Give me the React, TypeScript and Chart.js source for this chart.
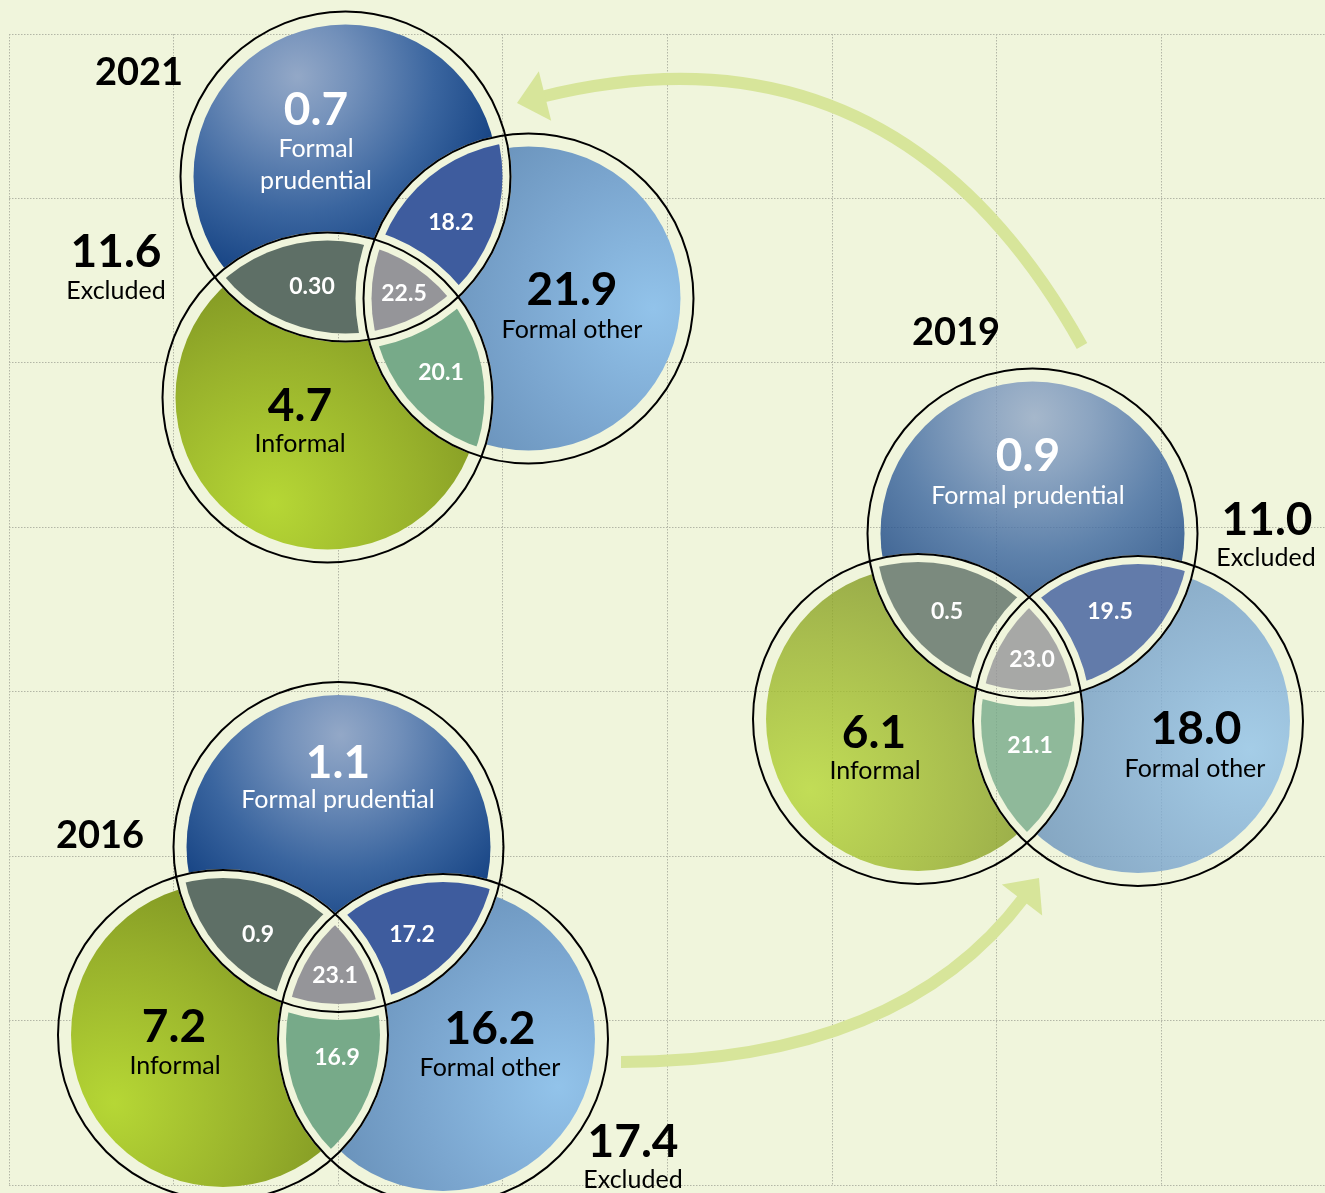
import React, { useEffect, useRef } from 'react';
import { Chart, registerables } from 'chart.js';

Chart.register(...registerables);

const W = 1325;
const H = 1193;

// ---------- data ----------
const years = ['2021', '2019', '2016'];
const categories = ['Formal prudential', 'Formal other', 'Informal'];
const excludedLabel = 'Excluded';
const excluded = [11.6, 11.0, 17.4];
const formalPrudential = [0.7, 0.9, 1.1];
const formalOther = [21.9, 18.0, 16.2];
const informal = [4.7, 6.1, 7.2];
const prudentialAndOther = [18.2, 19.5, 17.2];
const prudentialAndInformal = [0.3, 0.5, 0.9];
const prudentialAndInformalDecimals = [2, 1, 1];
const otherAndInformal = [20.1, 21.1, 16.9];
const allThree = [22.5, 23.0, 23.1];

// grid tick positions (in chart units)
const gridX = [9, 173.6, 338.3, 502.9, 667.6, 832.2, 996.9, 1161.5];
const gridY = [34, 198.4, 362.9, 527.3, 691.7, 856.1, 1020.6, 1185];

// ---------- layout / style ----------
const BG = '#f0f5dc';
const ARROW = '#d7e59a';
const FONT = 'Lato, "Noto Sans", sans-serif';
const R = 165;
const OUTER_GAP = 13;
const INNER_GAP = 8;

type Pt = [number, number];
interface VennLayout {
  centers: Pt[]; // prudential, other, informal
  alpha: number;
  hlP: Pt; hlO: Pt; hlI: Pt;
  year: Pt;
  exclNum: Pt; exclLbl: Pt;
  pVal: Pt; pName: Pt[]; pLines: string[];
  oVal: Pt; oName: Pt;
  iVal: Pt; iName: Pt;
  po: Pt; pi: Pt; oi: Pt; poi: Pt;
}

const layouts: VennLayout[] = [
  {
    centers: [[345.5, 176.5], [528.5, 298.5], [327.5, 397.5]],
    alpha: 1,
    hlP: [-48, -100], hlO: [125, 10], hlI: [-54, 106],
    year: [139, 85],
    exclNum: [116, 267], exclLbl: [116, 299],
    pVal: [316, 125], pName: [[316, 157], [316, 189]], pLines: ['Formal', 'prudential'],
    oVal: [572, 305], oName: [572, 338],
    iVal: [300, 421], iName: [300, 452],
    po: [451, 230], pi: [312, 294], oi: [441, 380], poi: [404, 301],
  },
  {
    centers: [[1032.5, 533.5], [1138, 721], [918, 719]],
    alpha: 0.8,
    hlP: [2, -116], hlO: [112, 29], hlI: [-108, 71],
    year: [956, 345],
    exclNum: [1267, 535], exclLbl: [1266, 566],
    pVal: [1028, 471], pName: [[1028, 504]], pLines: ['Formal prudential'],
    oVal: [1196, 744], oName: [1195, 777],
    iVal: [874, 748], iName: [875, 779],
    po: [1110, 619], pi: [947, 619], oi: [1030, 753], poi: [1032, 667],
  },
  {
    centers: [[338.5, 847], [443, 1039], [223, 1035]],
    alpha: 1,
    hlP: [2, -112], hlO: [115, 48], hlI: [-109, 68],
    year: [100, 848],
    exclNum: [633, 1157], exclLbl: [633, 1188],
    pVal: [338, 778], pName: [[338, 808]], pLines: ['Formal prudential'],
    oVal: [490, 1044], oName: [490, 1076],
    iVal: [174, 1042], iName: [175, 1074],
    po: [412, 942], pi: [258, 942], oi: [337, 1065], poi: [335, 983],
  },
];

// arrows: start, control, head base, head tip
const arrows: { start: Pt; ctrl: Pt; base: Pt; tip: Pt }[] = [
  { start: [1082, 346], ctrl: [895, 10], base: [545, 96], tip: [517, 103] },
  { start: [621, 1062], ctrl: [900, 1062], base: [1022, 900], tip: [1039, 878] },
];

const fmt = (v: number, d = 1) => v.toFixed(d);

const vennPlugin = {
  id: 'vennPlugin',
  beforeDraw(chart: any) {
    const ctx = chart.ctx as CanvasRenderingContext2D;
    ctx.save();
    ctx.fillStyle = BG;
    ctx.fillRect(0, 0, chart.width, chart.height);
    ctx.restore();
  },
  afterDraw(chart: any) {
    const ctx = chart.ctx as CanvasRenderingContext2D;
    const xs = chart.scales.x;
    const ys = chart.scales.y;
    const px = (v: number) => xs.getPixelForValue(v);
    const py = (v: number) => ys.getPixelForValue(v);
    const pr = (r: number) => Math.abs(xs.getPixelForValue(r) - xs.getPixelForValue(0));
    const dxp = (d: number) => xs.getPixelForValue(d) - xs.getPixelForValue(0);
    const dyp = (d: number) => ys.getPixelForValue(d) - ys.getPixelForValue(0);

    // ---- arrows ----
    for (const a of arrows) {
      const sx = px(a.start[0]), sy = py(a.start[1]);
      const cx = px(a.ctrl[0]), cy = py(a.ctrl[1]);
      const bx = px(a.base[0]), by = py(a.base[1]);
      const tx = px(a.tip[0]), ty = py(a.tip[1]);
      let dx = tx - bx, dy = ty - by;
      const len = Math.hypot(dx, dy);
      dx /= len; dy /= len;
      ctx.save();
      ctx.strokeStyle = ARROW;
      ctx.lineWidth = pr(12);
      ctx.lineCap = 'butt';
      ctx.beginPath();
      ctx.moveTo(sx, sy);
      ctx.quadraticCurveTo(cx, cy, bx + dx * 3, by + dy * 3);
      ctx.stroke();
      const hw = pr(25.5);
      ctx.fillStyle = ARROW;
      ctx.beginPath();
      ctx.moveTo(tx, ty);
      ctx.lineTo(bx - dy * hw, by + dx * hw);
      ctx.lineTo(bx + dy * hw, by - dx * hw);
      ctx.closePath();
      ctx.fill();
      ctx.restore();
    }

    // ---- venns ----
    const text = (s: string, p: Pt, size: number, bold: boolean, color: string) => {
      ctx.font = `${bold ? 700 : 400} ${size}px ${FONT}`;
      ctx.fillStyle = color;
      ctx.textAlign = 'center';
      ctx.textBaseline = 'alphabetic';
      ctx.fillText(s, px(p[0]), py(p[1]));
    };

    layouts.forEach((L, idx) => {
      const c = L.centers.map(([x, y]) => [px(x), py(y)] as Pt);
      const r = pr(R);
      const mkRadial = (k: number, off: Pt, rad: number, stops: [number, string][]) => {
        const hx = c[k][0] + dxp(off[0]);
        const hy = c[k][1] + dyp(off[1]);
        const g = ctx.createRadialGradient(hx, hy, 0, hx, hy, pr(rad));
        stops.forEach(([o, col]) => g.addColorStop(o, col));
        return g;
      };
      const gP = mkRadial(0, L.hlP, 285, [[0, '#93a8c7'], [0.2, '#7290ba'], [0.48, '#3a659f'], [0.72, '#184585'], [1, '#002a66']]);
      const gO = mkRadial(1, L.hlO, 300, [[0, '#92c3ea'], [0.45, '#7ba6cf'], [1, '#5d84ac']]);
      const gI = mkRadial(2, L.hlI, 300, [[0, '#b6d735'], [0.5, '#97b02b'], [1, '#72861e']]);

      const regions: { inside: number[]; fill: any }[] = [
        { inside: [0], fill: gP },
        { inside: [1], fill: gO },
        { inside: [2], fill: gI },
        { inside: [0, 1], fill: '#3e5c9e' },
        { inside: [0, 2], fill: '#5e6f66' },
        { inside: [1, 2], fill: '#77aa89' },
        { inside: [0, 1, 2], fill: '#959599' },
      ];
      const minX = Math.min(...c.map((p) => p[0])) - r - 2;
      const maxX = Math.max(...c.map((p) => p[0])) + r + 2;
      const minY = Math.min(...c.map((p) => p[1])) - r - 2;
      const maxY = Math.max(...c.map((p) => p[1])) + r + 2;

      for (const reg of regions) {
        const single = reg.inside.length === 1;
        ctx.save();
        for (let k = 0; k < 3; k++) {
          ctx.beginPath();
          if (reg.inside.includes(k)) {
            ctx.arc(c[k][0], c[k][1], r - pr(single ? OUTER_GAP : INNER_GAP), 0, Math.PI * 2);
            ctx.clip();
          } else {
            ctx.rect(minX - 10, minY - 10, maxX - minX + 20, maxY - minY + 20);
            ctx.arc(c[k][0], c[k][1], r + pr(single ? 1 : INNER_GAP), 0, Math.PI * 2);
            ctx.clip('evenodd');
          }
        }
        ctx.globalAlpha = L.alpha;
        ctx.fillStyle = reg.fill;
        ctx.fillRect(minX, minY, maxX - minX, maxY - minY);
        ctx.restore();
      }

      // outlines
      ctx.save();
      ctx.strokeStyle = '#000';
      ctx.lineWidth = 2;
      for (let k = 0; k < 3; k++) {
        ctx.beginPath();
        ctx.arc(c[k][0], c[k][1], r, 0, Math.PI * 2);
        ctx.stroke();
      }
      ctx.restore();

      // texts
      const BIG = 46, NAME = 25, SMALL = 23;
      text(years[idx], L.year, 38, true, '#000');
      text(fmt(excluded[idx]), L.exclNum, BIG, true, '#000');
      text(excludedLabel, L.exclLbl, NAME, false, '#000');
      text(fmt(formalPrudential[idx]), L.pVal, BIG, true, '#fff');
      L.pLines.forEach((ln, i) => text(ln, L.pName[i], NAME, false, '#fff'));
      text(fmt(formalOther[idx]), L.oVal, BIG, true, '#000');
      text(categories[1], L.oName, NAME, false, '#000');
      text(fmt(informal[idx]), L.iVal, BIG, true, '#000');
      text(categories[2], L.iName, NAME, false, '#000');
      text(fmt(prudentialAndOther[idx]), L.po, SMALL, true, '#fff');
      text(fmt(prudentialAndInformal[idx], prudentialAndInformalDecimals[idx]), L.pi, SMALL, true, '#fff');
      text(fmt(otherAndInformal[idx]), L.oi, SMALL, true, '#fff');
      text(fmt(allThree[idx]), L.poi, SMALL, true, '#fff');
    });
  },
};

export default function App() {
  const ref = useRef<HTMLCanvasElement>(null);
  useEffect(() => {
    if (!ref.current) return;
    const gridCfg = { color: '#b3b6a6', lineWidth: 1, drawTicks: false };
    const chart = new Chart(ref.current, {
      type: 'scatter',
      data: { datasets: [] },
      options: {
        animation: false,
        responsive: false,
        maintainAspectRatio: false,
        devicePixelRatio: 1,
        events: [],
        layout: { padding: { left: 9, top: 34, right: 0, bottom: 8 } },
        plugins: { legend: { display: false }, tooltip: { enabled: false }, title: { display: false } },
        scales: {
          x: {
            type: 'linear',
            min: 9,
            max: 1325,
            afterBuildTicks: (s: any) => { s.ticks = gridX.map((v) => ({ value: v })); },
            ticks: { display: false },
            grid: gridCfg,
            border: { display: false, dash: [1.5, 1.5] },
          },
          y: {
            type: 'linear',
            reverse: true,
            min: 34,
            max: 1185,
            afterBuildTicks: (s: any) => { s.ticks = gridY.map((v) => ({ value: v })); },
            ticks: { display: false },
            grid: gridCfg,
            border: { display: false, dash: [1.5, 1.5] },
          },
        },
      } as any,
      plugins: [vennPlugin],
    });
    return () => chart.destroy();
  }, []);
  return (
    <canvas
      ref={ref}
      width={W}
      height={H}
      style={{ position: 'absolute', left: 0, top: 0, width: W, height: H, display: 'block' }}
    />
  );
}
